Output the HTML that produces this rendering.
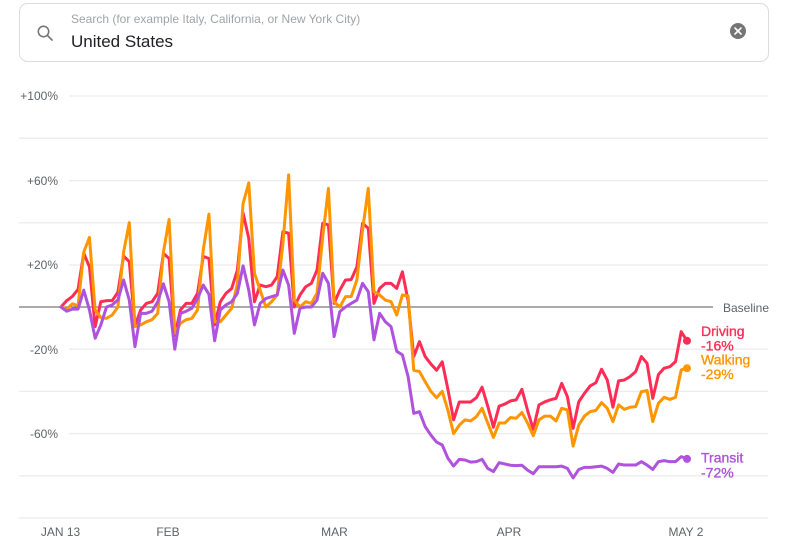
<!DOCTYPE html>
<html>
<head>
<meta charset="utf-8">
<style>
  html, body { margin: 0; padding: 0; background: #ffffff; }
  body { width: 788px; height: 558px; overflow: hidden; }
  svg { display: block; font-family: "Liberation Sans", sans-serif; }
</style>
</head>
<body>
<svg width="788" height="558" viewBox="0 0 788 558" xmlns="http://www.w3.org/2000/svg">
  <!-- Search box -->
  <rect x="19.5" y="3.5" width="749" height="58" rx="8" ry="8" fill="#ffffff" stroke="#dadce0" stroke-width="1"/>
  <circle cx="43.5" cy="31.5" r="5.2" fill="none" stroke="#70757a" stroke-width="1.5"/>
  <line x1="47.3" y1="35.3" x2="52" y2="40" stroke="#70757a" stroke-width="1.6" stroke-linecap="round"/>
  <text x="71" y="23" font-size="12" fill="#a0a4a8">Search (for example Italy, California, or New York City)</text>
  <text x="71" y="47" font-size="17" fill="#202124">United States</text>
  <circle cx="738" cy="31" r="8" fill="#757575"/>
  <line x1="735" y1="28" x2="741" y2="34" stroke="#ffffff" stroke-width="1.6" stroke-linecap="round"/>
  <line x1="741" y1="28" x2="735" y2="34" stroke="#ffffff" stroke-width="1.6" stroke-linecap="round"/>

  <!-- Gridlines -->
  <g stroke="#ececec" stroke-width="1.3">
    <line x1="69" y1="96" x2="768" y2="96"/>
    <line x1="19" y1="138.2" x2="768" y2="138.2"/>
    <line x1="69" y1="180.6" x2="768" y2="180.6"/>
    <line x1="19" y1="222.8" x2="768" y2="222.8"/>
    <line x1="69" y1="265" x2="768" y2="265"/>
    <line x1="69" y1="349.2" x2="768" y2="349.2"/>
    <line x1="19" y1="391.4" x2="768" y2="391.4"/>
    <line x1="69" y1="433.6" x2="768" y2="433.6"/>
    <line x1="19" y1="475.8" x2="768" y2="475.8"/>
    <line x1="19" y1="518" x2="768" y2="518"/>
  </g>
  <!-- Baseline -->
  <line x1="19" y1="307" x2="713" y2="307" stroke="#555555" stroke-width="1.1"/>
  <text x="723" y="312" font-size="12" fill="#5f6368">Baseline</text>

  <!-- Y labels -->
  <g font-size="12" fill="#5f6368" text-anchor="end">
    <text x="58" y="100">+100%</text>
    <text x="58" y="185">+60%</text>
    <text x="58" y="269">+20%</text>
    <text x="58" y="354">-20%</text>
    <text x="58" y="438">-60%</text>
  </g>

  <!-- X labels -->
  <g font-size="12" fill="#5f6368" text-anchor="middle">
    <text x="60.5" y="536">JAN 13</text>
    <text x="168" y="536">FEB</text>
    <text x="334.5" y="536">MAR</text>
    <text x="509" y="536">APR</text>
    <text x="686" y="536">MAY 2</text>
  </g>

  <!-- Series -->
  <g transform="translate(61 307) scale(5.69 -2.11)" fill="none" stroke-width="3" stroke-linejoin="round" stroke-linecap="round">
    <polyline vector-effect="non-scaling-stroke" stroke="#ff2d55" points="0,0 1,3 2,5 3,8.4 4,25.5 5,19 6,-9.3 7,2.5 8,3 9,3 10,7 11,24.2 12,21.5 13,-9 14,-1.4 15,1.7 16,2.5 17,6.5 18,25.4 19,23 20,-13.5 21,-1.4 22,1.7 23,1.7 24,6.5 25,24 26,23 27,-8.5 28,2.5 29,6.5 30,8.8 31,17.5 32,44.6 33,32.5 34,2.5 35,10.4 36,9.6 37,10.4 38,14.4 39,35.7 40,35 41,0 42,5.7 43,9.6 44,11.2 45,17.5 46,39.7 47,38.9 48,1.7 49,8 50,12.8 51,13 52,19 53,39.7 54,37.3 55,1.7 56,8.8 57,11.2 58,11.2 59,8.8 60,16.7 61,3 62,-23.5 63,-16.4 64,-23.5 65,-27 66,-30 67,-26 68,-39 69,-53.5 70,-45 71,-45 72,-45 73,-43 74,-38 75,-47 76,-57 77,-47 78,-46 79,-44.5 80,-44 81,-39 82,-49 83,-58 84,-46.4 85,-45 86,-44 87,-43.3 88,-36.2 89,-42.5 90,-57.5 91,-44.9 92,-40.9 93,-37.4 94,-35.9 95,-29.5 96,-34.6 97,-47.5 98,-35 99,-34.6 100,-33 101,-30.6 102,-23.5 103,-26.7 104,-43.3 105,-32 106,-29 107,-28.3 108,-25.9 109,-11.7 110,-16"/>
    <polyline vector-effect="non-scaling-stroke" stroke="#ff9500" points="0,0 1,-1 2,1.5 3,0.5 4,26 5,33 6,-1.4 7,-5 8,-5.4 9,-3.8 10,0 11,26 12,40 13,-9.3 14,-8.5 15,-7 16,-6 17,-3 18,26 19,41.5 20,-12.5 21,-7.7 22,-6 23,-5.4 24,-1.4 25,27 26,44 27,-7 28,-7 29,-3.8 30,-0.6 31,11 32,49 33,58.8 34,16 35,8 36,0 37,2.5 38,5.7 39,30 40,62.6 41,3.3 42,0 43,2.5 44,1.7 45,6.5 46,33.3 47,56.2 48,2.5 49,0 50,4.9 51,4.9 52,12.8 53,36.5 54,56.2 55,7.3 56,5.7 57,3.3 58,2.5 59,-3.8 60,5.7 61,5.2 62,-30 63,-30.6 64,-35.4 65,-40 66,-43 67,-40 68,-49 69,-60 70,-56 71,-53.5 72,-54 73,-52 74,-48 75,-55 76,-61.8 77,-55 78,-55 79,-52.4 80,-52.7 81,-50 82,-55 83,-61 84,-53.5 85,-51.7 86,-51.7 87,-54 88,-48 89,-48.8 90,-65.9 91,-55.9 92,-51.7 93,-49.6 94,-49 95,-45.3 96,-48 97,-54.3 98,-46.4 99,-48.5 100,-47.5 101,-47.2 102,-40.1 103,-39.6 104,-54.3 105,-45.6 106,-42.8 107,-43.8 108,-42.8 109,-29.8 110,-29"/>
    <polyline vector-effect="non-scaling-stroke" stroke="#af52de" points="0,0 1,-2 2,-1 3,-1 4,8 5,-1.4 6,-14.8 7,-8.5 8,0 9,1 10,3.3 11,12.8 12,3.3 13,-18.8 14,-3 15,-3 16,-2 17,2.5 18,11 19,2.5 20,-20 21,-3 22,-2 23,-0.6 24,4 25,10.4 26,6 27,-16 28,-1.4 29,1 30,2.5 31,6.5 32,19.5 33,8 34,-8.5 35,1.7 36,4 37,4.9 38,5.7 39,17.5 40,10.4 41,-12.5 42,-0.6 43,0 44,0 45,3.3 46,16 47,11.2 48,-14 49,-2.2 50,0 51,1.7 52,3.3 53,11.2 54,7.3 55,-15.6 56,-3 57,-7 58,-9.3 59,-21 60,-22.7 61,-33 62,-50.4 63,-49.6 64,-56.7 65,-60.7 66,-64 67,-65.4 68,-71.7 69,-75.4 70,-72.2 71,-72.5 72,-73.5 73,-73.3 74,-72.2 75,-76.5 76,-78 77,-73.8 78,-74.4 79,-75 80,-75.2 81,-75 82,-77.3 83,-79 84,-75.7 85,-75.7 86,-75.7 87,-75.7 88,-75.4 89,-76.5 90,-81 91,-77 92,-76 93,-76 94,-75.7 95,-75.4 96,-76.5 97,-78.4 98,-74.4 99,-74.9 100,-74.9 101,-74.9 102,-73.3 103,-74.9 104,-77 105,-73.3 106,-72.8 107,-73.3 108,-73.3 109,-70.9 110,-72"/>
  </g>

  <!-- End dots -->
  <circle cx="687" cy="340.8" r="4" fill="#ff2d55"/>
  <circle cx="687" cy="368.2" r="4" fill="#ff9500"/>
  <circle cx="687" cy="458.9" r="4" fill="#af52de"/>

  <!-- Legend labels -->
  <g font-size="14" stroke-width="0.35">
    <text x="701" y="336" fill="#ff2d55" stroke="#ff2d55">Driving</text>
    <text x="701" y="350.5" fill="#ff2d55" stroke="#ff2d55">-16%</text>
    <text x="701" y="364.5" fill="#ff9500" stroke="#ff9500">Walking</text>
    <text x="701" y="379" fill="#ff9500" stroke="#ff9500">-29%</text>
    <text x="701" y="462.5" fill="#af52de" stroke="#af52de">Transit</text>
    <text x="701" y="477.5" fill="#af52de" stroke="#af52de">-72%</text>
  </g>
</svg>
</body>
</html>
